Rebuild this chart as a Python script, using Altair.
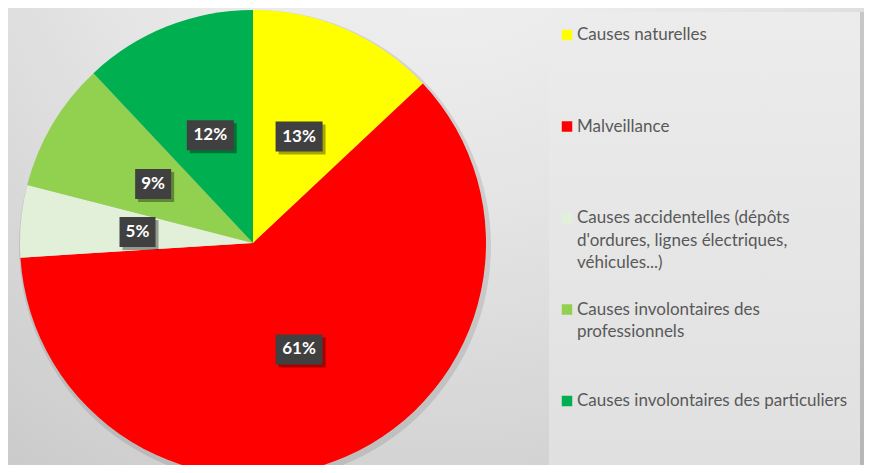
import altair as alt
import pandas as pd

# ---- data ----
categories = [
    "Causes naturelles",
    "Malveillance",
    "Causes accidentelles (dépôts d'ordures, lignes électriques, véhicules...)",
    "Causes involontaires des professionnels",
    "Causes involontaires des particuliers",
]
legend_labels = [
    "Causes naturelles",
    "Malveillance",
    "Causes accidentelles (dépôts\nd'ordures, lignes électriques,\nvéhicules...)",
    "Causes involontaires des\nprofessionnels",
    "Causes involontaires des particuliers",
]
values = [13, 61, 5, 9, 12]
colors = ["#ffff00", "#ff0000", "#e2f0d9", "#92d050", "#00b050"]

df = pd.DataFrame({
    "cat": categories,
    "legend": legend_labels,
    "value": values,
    "idx": list(range(len(values))),
})

W, H = 856, 457
CX, CY, R = 245, 235, 233
LR = 116

color_scale = alt.Scale(domain=categories, range=colors)
base = alt.Chart(df)

bg = alt.Chart(pd.DataFrame({"a": [0]})).mark_rect(
    fill=alt.Gradient(
        gradient="radial",
        stops=[alt.GradientStop(color="#f6f6f6", offset=0),
               alt.GradientStop(color="#e4e4e4", offset=0.45),
               alt.GradientStop(color="#c6c6c6", offset=1)],
        x1=0.5, y1=0.05, r1=0, x2=0.5, y2=0.05, r2=0.95,
    )
).encode(x=alt.value(-8), x2=alt.value(W + 8), y=alt.value(-8), y2=alt.value(H + 8))

pie_shadow = alt.Chart(pd.DataFrame({"a": [0]})).mark_arc(
    radius=R + 3, theta=0, theta2=6.2832, color="#000000", opacity=0.10
).encode(x=alt.value(CX + 2), y=alt.value(CY + 3))

pie = base.mark_arc(radius=R, stroke=None).encode(
    theta=alt.Theta("value:Q", stack=True),
    color=alt.Color("cat:N", scale=color_scale, legend=None),
    order=alt.Order("idx:Q"),
    x=alt.value(CX), y=alt.value(CY),
)

lab = base.transform_window(
    cum="sum(value)", sort=[alt.SortField("idx")]
).transform_joinaggregate(
    total="sum(value)"
).transform_calculate(
    label="datum.value + '%'",
    ang="(datum.cum - datum.value/2) / datum.total * 2 * PI",
).transform_calculate(
    px=f"{CX} + {LR} * sin(datum.ang)",
    py=f"{CY} - {LR} * cos(datum.ang)",
    w="14 + 11 * length(datum.label)",
).transform_calculate(
    bx1="datum.px - datum.w/2", bx2="datum.px + datum.w/2",
    by1="datum.py - 15", by2="datum.py + 15",
    sx1="datum.px - datum.w/2 + 3", sx2="datum.px + datum.w/2 + 3",
    sy1="datum.py - 12", sy2="datum.py + 18",
)

box_shadow = lab.mark_rect(color="#000000", opacity=0.35).encode(
    x=alt.X("sx1:Q", scale=None), x2="sx2:Q",
    y=alt.Y("sy1:Q", scale=None), y2="sy2:Q",
)
box = lab.mark_rect(color="#404040").encode(
    x=alt.X("bx1:Q", scale=None), x2="bx2:Q",
    y=alt.Y("by1:Q", scale=None), y2="by2:Q",
)
txt = lab.mark_text(
    color="#ffffff", font="Lato", fontWeight="bold", fontSize=17,
    align="center", baseline="middle",
).encode(
    x=alt.X("px:Q", scale=None), y=alt.Y("py:Q", scale=None), text="label:N",
)

leg_shadow = alt.Chart(pd.DataFrame({"a": [0]})).mark_rect(
    color="#000000", opacity=0.10
).encode(x=alt.value(543), x2=alt.value(856), y=alt.value(4), y2=alt.value(466))
leg_box = alt.Chart(pd.DataFrame({"a": [0]})).mark_rect(
    fill=alt.Gradient(
        gradient="linear",
        stops=[alt.GradientStop(color="#ececec", offset=0),
               alt.GradientStop(color="#e0e0e0", offset=1)],
        x1=0, y1=0, x2=0, y2=1,
    )
).encode(x=alt.value(541), x2=alt.value(852), y=alt.value(4), y2=alt.value(462))

ypos = alt.Y("cat:N", sort=categories, axis=None,
             scale=alt.Scale(type="point", range=[27, 393], padding=0))
leg_sym = base.mark_square(size=110, opacity=1).encode(
    x=alt.value(559), y=ypos,
    color=alt.Color("cat:N", scale=color_scale, legend=None),
)
leg_txt = base.mark_text(
    align="left", baseline="top", dy=-8, font="Lato", fontSize=17,
    color="#595959", lineBreak="\n", lineHeight=22.5,
).encode(x=alt.value(569), y=ypos, text="legend:N")

chart = alt.layer(
    bg, pie_shadow, pie, box_shadow, box, txt, leg_shadow, leg_box, leg_sym, leg_txt
).resolve_scale(
    x="independent", y="independent", color="independent", theta="independent"
).properties(
    width=W, height=H, padding=0, autosize=alt.AutoSizeParams(type="none"),
    background="#d4d4d4",
).configure_view(stroke=None)

chart.save("out.html", embed_options={"renderer": "svg", "actions": False})
